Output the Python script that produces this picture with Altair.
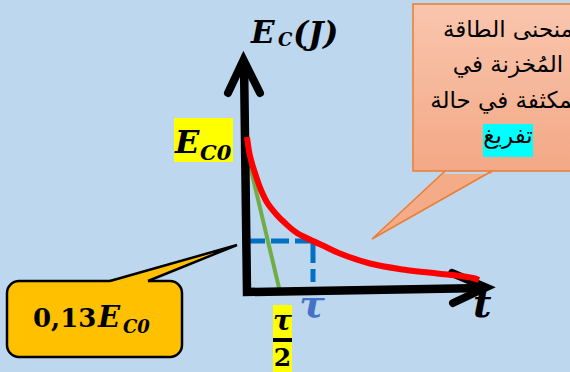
import altair as alt
import pandas as pd

# ---- data: capacitor energy during discharge (t in units of tau, E in units of E_C0)
t_curve = [0, 0.045, 0.121, 0.212, 0.318, 0.439, 0.576, 0.758, 1.0, 1.197, 1.409, 1.864,
           2.364, 2.879, 3.227, 3.424, 3.515]
e_curve = [1.0, 0.787, 0.616, 0.464, 0.354, 0.284, 0.226, 0.170, 0.13, 0.1034, 0.0776, 0.0447,
           0.0290, 0.0202, 0.0155, 0.0121, 0.0091]

# tangent at the origin, reaching zero at tau/2
t_tangent = [0.0, 0.5]
e_tangent = [0.82, 0.0]

# energy left after one time constant
t_tau = 1.0
e_tau = 0.13
e_dash_end = 0.0065

# texts
axis_y_text = ["E", "C", "(J)"]
axis_x_text = "t"
tau_text = "τ"
half_tau_text = ["τ", "2"]
e0_text = ["E", "C0"]
callout_value_text = ["0,13", "E", "C0"]
callout_lines = ["منحنى الطاقة", "المُخزنة في", "المكثفة في  حالة"]
callout_highlight = "تفريغ"

# ---- layout
W, H = 570, 372
ORIGIN_X, ORIGIN_Y = 247, 292
TAU_PX, E0_PX = 66, 155
POW = 0.545
SERIF = "DejaVu Serif"
ARABIC = "DejaVu Sans"
BG = "#BDD7EE"

x_t = alt.Scale(domain=[-ORIGIN_X / TAU_PX, (W - ORIGIN_X) / TAU_PX], nice=False, zero=False)
y_e = alt.Scale(type="pow", exponent=POW,
                domain=[-((H - ORIGIN_Y) / E0_PX) ** (1 / POW), (ORIGIN_Y / E0_PX) ** (1 / POW)],
                nice=False, zero=False)
x_px = alt.Scale(domain=[0, W], nice=False, zero=False)
y_px = alt.Scale(domain=[H, 0], nice=False, zero=False)


def data_line(ts, es, **mark):
    df = pd.DataFrame({"t": ts, "E": es, "i": range(len(ts))})
    return alt.Chart(df).mark_line(**mark).encode(
        x=alt.X("t:Q", scale=x_t, axis=None),
        y=alt.Y("E:Q", scale=y_e, axis=None),
        order="i:Q",
    )


def page_path(points, **mark):
    df = pd.DataFrame({"x": [p[0] for p in points], "y": [p[1] for p in points],
                       "i": range(len(points))})
    return alt.Chart(df).mark_line(**mark).encode(
        x=alt.X("x:Q", scale=x_px, axis=None),
        y=alt.Y("y:Q", scale=y_px, axis=None),
        order="i:Q",
    )


def page_rect(x1, y1, x2, y2, **mark):
    df = pd.DataFrame({"x": [x1], "x2": [x2], "y": [y1], "y2": [y2]})
    return alt.Chart(df).mark_rect(**mark).encode(
        x=alt.X("x:Q", scale=x_px, axis=None), x2="x2:Q",
        y=alt.Y("y:Q", scale=y_px, axis=None), y2="y2:Q",
    )


def label(text, x, y, size, color="black", italic=True, bold=True, font=SERIF, align="left"):
    df = pd.DataFrame({"x": [x], "y": [y], "text": [text]})
    return alt.Chart(df).mark_text(
        font=font, fontSize=size, fontStyle="italic" if italic else "normal",
        fontWeight="bold" if bold else "normal", color=color, align=align,
        baseline="alphabetic",
    ).encode(
        x=alt.X("x:Q", scale=x_px, axis=None),
        y=alt.Y("y:Q", scale=y_px, axis=None),
        text="text:N",
    )


layers = []

# tangent and the tau construction lines (drawn under the axes)
layers.append(data_line(t_tangent, e_tangent, color="#70AD47", strokeWidth=4))
layers.append(data_line([0, t_tau], [e_tau, e_tau], color="#0070C0", strokeWidth=5,
                        strokeDash=[18, 6], strokeCap="butt"))
layers.append(data_line([t_tau, t_tau], [e_tau, e_dash_end], color="#0070C0", strokeWidth=5,
                        strokeDash=[22, 6], strokeCap="butt"))

# axes with open arrowheads
layers.append(page_path([(244, 62), (247, 292), (485, 288)], color="black", strokeWidth=8.5,
                        strokeJoin="miter", strokeCap="butt"))
layers.append(page_path([(228, 93), (243.5, 60), (260, 93)], color="black", strokeWidth=8,
                        strokeJoin="miter", strokeCap="round"))
layers.append(page_path([(452, 273), (486, 287.5), (453, 303)], color="black", strokeWidth=8,
                        strokeJoin="miter", strokeCap="round"))

# energy curve
layers.append(data_line(t_curve, e_curve, color="#FF0000", strokeWidth=6,
                        interpolate="catmull-rom", strokeCap="butt"))

# axis titles
layers.append(label(axis_y_text[0], 251, 43, 31))
layers.append(label(axis_y_text[1], 278, 46, 18))
layers.append(label(axis_y_text[2], 293, 44, 32))
layers.append(label(axis_x_text, 473, 317, 40))

# tau marks
layers.append(label(tau_text, 312, 317, 38, color="#4472C4", align="center"))
layers.append(page_rect(273, 305, 292, 372, color="#FFFF00"))
layers.append(label(half_tau_text[0], 282.5, 330, 28, align="center"))
layers.append(page_rect(273, 338, 292, 342, color="black"))
layers.append(label(half_tau_text[1], 282.5, 366, 25, italic=False, align="center"))

# E_C0 tag
layers.append(page_rect(174, 118, 233, 162, color="#FFFF00"))
layers.append(label(e0_text[0], 175, 153, 32))
layers.append(label(e0_text[1], 200, 160, 21))

# 0,13 E_C0 callout
layers.append(page_rect(7, 281, 182, 357, fill="#FFC000", stroke="black", strokeWidth=2.5,
                        cornerRadius=12))
layers.append(page_path([(110, 284), (110, 281), (237, 245), (148, 281), (148, 284)],
                        fill="#FFC000", stroke="#FFC000", strokeWidth=0))
layers.append(page_path([(110, 281), (237, 245), (148, 281)], color="black", strokeWidth=2.5,
                        strokeJoin="miter"))
layers.append(label(callout_value_text[0], 33, 327, 26, italic=False))
layers.append(label(callout_value_text[1], 98, 327, 29))
layers.append(label(callout_value_text[2], 123, 333, 18))

# Arabic callout
grad = alt.Gradient(gradient="linear", x1=0, x2=0, y1=0, y2=1,
                    stops=[alt.GradientStop(color="#F9C6AE", offset=0),
                           alt.GradientStop(color="#F3A886", offset=1)])
layers.append(page_rect(413, 4, 600, 171, fill=grad, stroke="#ED7D31", strokeWidth=1.5))
layers.append(page_path([(445, 174), (445, 171), (372, 239), (492, 171), (492, 174)],
                        fill="#F4AB88", stroke="#F4AB88", strokeWidth=0))
layers.append(page_path([(445, 171), (372, 239), (492, 171)], color="#ED7D31", strokeWidth=1.5,
                        strokeJoin="miter"))
for txt, base in zip(callout_lines, [37, 72, 108]):
    layers.append(label(txt, 508, base, 23, italic=False, bold=False, font=ARABIC, align="center"))
layers.append(page_rect(483, 124, 533, 157, color="#00FFFF"))
layers.append(label(callout_highlight, 508, 143, 23, italic=False, bold=False, font=ARABIC,
                    align="center"))

chart = alt.layer(*layers).resolve_scale(x="independent", y="independent").properties(
    width=W, height=H, padding=0, autosize="none", background=BG,
).configure_view(stroke=None)

chart.save("out.html", embed_options={"renderer": "svg", "actions": False})
